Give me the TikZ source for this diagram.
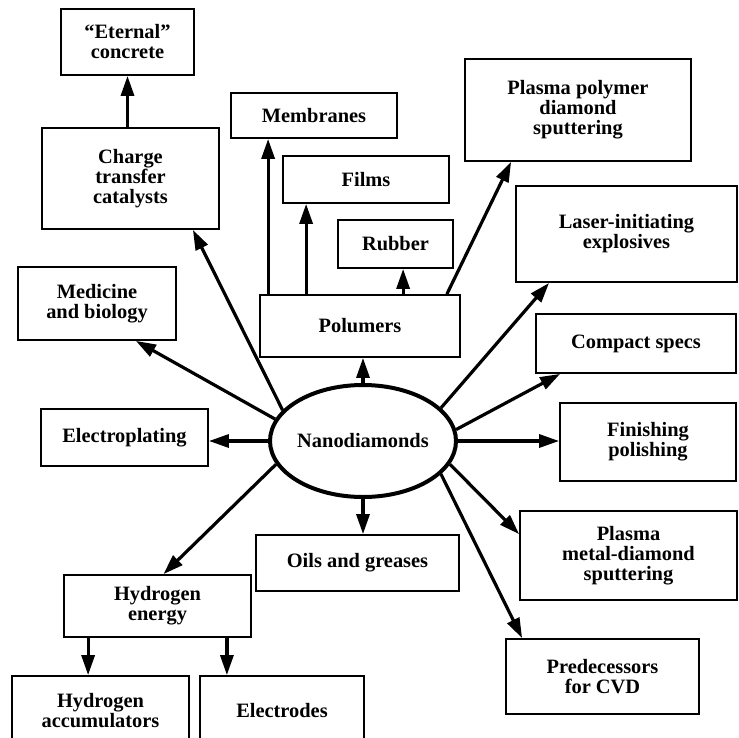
\documentclass[tikz,border=0pt]{standalone}
\usepackage{fontspec}
\setmainfont{Liberation Serif}
\usetikzlibrary{arrows.meta,positioning,calc,shapes.geometric}

\begin{document}
\begin{tikzpicture}[x=.5pt,y=-.5pt,
  box/.style={draw,line width=.9pt,align=center,inner sep=2pt,font=\bfseries\fontsize{10.2}{10}\selectfont},
  arr/.style={-{Triangle[length=10pt,width=6.5pt]},line width=1.6pt}]
\clip (0,0) rectangle (738,738);
\node[draw,ellipse,line width=2pt,minimum width=85pt,minimum height=56pt,inner sep=0pt,font=\bfseries\fontsize{10.2}{10}\selectfont] (nano) at (363,441) {Nanodiamonds};
% upper left branch
\node[box,minimum width=66.5pt,minimum height=33pt] (eternal) at (127.5,42) {``Eternal''\\concrete};
\node[box,minimum width=88.5pt,minimum height=50.5pt] (charge) at (130.5,178.5) {Charge\\transfer\\catalysts};
\node[box,minimum width=79pt,minimum height=36.5pt] (medicine) at (97,303.5) {Medicine\\and biology};
\node[box,minimum width=83.5pt,minimum height=28.5pt] (electroplating) at (124.5,437.5) {Electroplating};
% polymers
\node[box,minimum width=100pt,minimum height=31pt] (polumers) at (360,326) {Polumers};
\node[box,minimum width=83pt,minimum height=22.5pt] (membranes) at (314,115.5) {Membranes};
\node[box,minimum width=83pt,minimum height=23.5pt] (films) at (366,179.5) {Films};
\node[box,minimum width=57.5pt,minimum height=24pt] (rubber) at (395.5,244) {Rubber};
% right side
\node[box,minimum width=113pt,minimum height=51pt] (plasmapoly) at (578,110) {Plasma polymer\\diamond\\sputtering};
\node[box,minimum width=110.5pt,minimum height=48pt] (laser) at (626.5,234) {Laser-initiating\\explosives};
\node[box,minimum width=100pt,minimum height=29.5pt] (compact) at (636,343.5) {Compact specs};
\node[box,minimum width=88pt,minimum height=39pt] (finishing) at (648,442) {Finishing\\polishing};
\node[box,minimum width=108.5pt,minimum height=44.5pt] (plasmametal) at (628.5,555.5) {Plasma\\metal-diamond\\sputtering};
\node[box,minimum width=96.5pt,minimum height=37.5pt] (cvd) at (602.5,676.5) {Predecessors\\for CVD};
% lower side
\node[box,minimum width=101.5pt,minimum height=28pt] (oils) at (357.5,563) {Oils and greases};
\node[box,minimum width=93.5pt,minimum height=31pt] (hydrogen) at (157.5,606) {Hydrogen\\energy};
\node[box,minimum width=88.5pt,minimum height=35pt] (accum) at (100.5,711) {Hydrogen\\accumulators};
\node[box,minimum width=82pt,minimum height=35pt] (electrodes) at (282,711) {Electrodes};
% arrows
\draw[arr] (charge.north -| eternal) -- (eternal.south);
\draw[arr] (nano.159) -- ($(charge.south east)+(-27,0)$);
\draw[arr] (nano.166) -- ($(medicine.south east)+(-41,0)$);
\draw[arr] (nano.north) -- (nano.north |- polumers.south);
\draw[arr] (nano.west) -- (nano.west -| electroplating.east);
\draw[arr] (nano.195) -- ($(hydrogen.north)+(6,0)$);
\draw[arr] (nano.south) -- (nano.south |- oils.north);
\draw[arr] (nano.23) -- ($(laser.south west)+(34,0)$);
\draw[arr] (nano.7) -- ($(compact.south west)+(25,0)$);
\draw[arr] (nano.east) -- (nano.east -| finishing.west);
\draw[arr] (nano.-15) -- ($(plasmametal.north west)+(0,24)$);
\draw[arr] (nano.-23) -- ($(cvd.north west)+(17,0)$);
\coordinate (tomem) at ($(membranes.south west)+(38,0)$);
\coordinate (tofilm) at ($(films.south west)+(24,0)$);
\coordinate (torub) at ($(rubber.south west)+(66,0)$);
\draw[arr] (polumers.north -| tomem) -- (tomem);
\draw[arr] (polumers.north -| tofilm) -- (tofilm);
\draw[arr] (polumers.north -| torub) -- (torub);
\draw[arr] ($(polumers.north east)+(-14,0)$) -- ($(plasmapoly.south west)+(47,0)$);
\coordinate (toacc) at ($(hydrogen.south west)+(25,0)$);
\coordinate (toelec) at ($(hydrogen.south east)+(-25,0)$);
\draw[arr] (toacc) -- (toacc |- accum.north);
\draw[arr] (toelec) -- (toelec |- electrodes.north);
\end{tikzpicture}
\end{document}
